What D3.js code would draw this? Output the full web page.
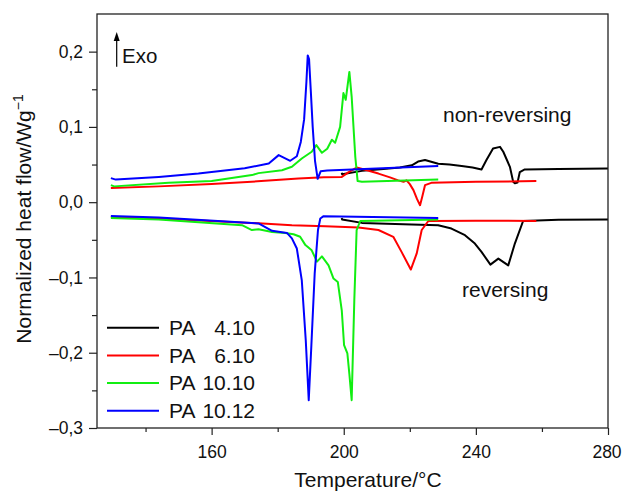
<!DOCTYPE html>
<html>
<head>
<meta charset="utf-8">
<script src="https://cdn.jsdelivr.net/npm/d3@7/dist/d3.min.js"></script>
<style>
  html, body { margin: 0; padding: 0; background: #fff; }
  svg { display: block; font-family: "Liberation Sans", Arial, sans-serif; }
</style>
</head>
<body>
<svg id="chart" width="622" height="494"></svg>
<script>
// ---- Data (temperature °C, normalized heat flow W/g) ----
const seriesNames = ["PA   4.10", "PA   6.10", "PA 10.10", "PA 10.12"];
const seriesPrefix = ["PA", "PA", "PA", "PA"];
const seriesNumber = ["4.10", "6.10", "10.10", "10.12"];
const seriesColors = ["#000000", "#ff0000", "#11ee11", "#0000ff"];

const xTicks = [160, 200, 240, 280];
const xMinorTicks = [140, 180, 220, 260];
const yTicks = [0.2, 0.1, 0.0, -0.1, -0.2, -0.3];
const yTickLabels = ["0,2", "0,1", "0,0", "\u20130,1", "\u20130,2", "\u20130,3"];
const yMinorTicks = [0.15, 0.05, -0.05, -0.15, -0.25];

// non-reversing curves
const pa410NonRev = [[199.4,0.039],[199.5,0.037],[205.5,0.0416],[212,0.044],[217,0.046],[220.6,0.049],[222.5,0.054],[224.6,0.056],[228.6,0.051],[232,0.050],[235.7,0.048],[239,0.046],[241.7,0.0435],[243.2,0.056],[245.2,0.0714],[247.3,0.0735],[248.3,0.067],[250.3,0.047],[251.3,0.027],[251.8,0.025],[252.6,0.026],[253.3,0.040],[254.8,0.0435],[265,0.044],[280,0.0448]];
const pa610NonRev = [[129.5,0.019],[144,0.021],[160,0.024],[175,0.028],[186.3,0.0315],[194,0.033],[199.4,0.0336],[201.5,0.040],[203.9,0.046],[206.5,0.043],[210.5,0.038],[214,0.033],[216.5,0.029],[218.1,0.027],[219,0.029],[220,0.024],[221.1,0.016],[222.2,0.004],[223.1,-0.004],[223.8,0.008],[224.6,0.0226],[226.5,0.0257],[240,0.027],[258.3,0.028]];
const pa1010NonRev = [[129.5,0.0226],[130.5,0.021],[147,0.0257],[160,0.028],[172.2,0.036],[174.2,0.0386],[181.3,0.0425],[184.3,0.047],[187.3,0.058],[190.3,0.067],[191.7,0.0758],[193.4,0.0656],[195.0,0.071],[196.4,0.083],[197.4,0.079],[198.9,0.100],[199.9,0.145],[200.6,0.136],[201.7,0.173],[202.4,0.14],[203.5,0.06],[204.2,0.028],[205.5,0.027],[228.6,0.030]];
const pa1012NonRev = [[129.5,0.032],[131,0.030],[144,0.0336],[156,0.038],[170,0.045],[177.3,0.0514],[180.3,0.0625],[183.8,0.055],[185.8,0.061],[187,0.080],[188,0.11],[188.7,0.16],[189.1,0.195],[189.5,0.19],[190,0.15],[190.6,0.10],[191.3,0.055],[192.1,0.031],[193,0.041],[195,0.042],[228.6,0.048]];

// reversing curves
const pa410Rev = [[199.4,-0.021],[199.5,-0.023],[205.5,-0.0275],[220.6,-0.0297],[228.6,-0.0306],[232.6,-0.035],[236.7,-0.0439],[239.7,-0.055],[241.7,-0.066],[244.4,-0.083],[246.8,-0.075],[249.8,-0.084],[251.8,-0.055],[254.3,-0.025],[265,-0.0235],[280,-0.023]];
const pa610Rev = [[129.5,-0.0195],[144,-0.0217],[174.2,-0.028],[184.3,-0.0306],[194.4,-0.032],[204.5,-0.0337],[210.5,-0.037],[215,-0.046],[217.5,-0.066],[220.3,-0.0895],[222.1,-0.068],[223.6,-0.037],[225.6,-0.025],[240,-0.0247],[258.3,-0.0249]];
const pa1010Rev = [[129.5,-0.0209],[144,-0.023],[169.2,-0.0306],[172.2,-0.037],[174.2,-0.036],[178.3,-0.0395],[182.3,-0.041],[184.8,-0.0426],[186.8,-0.046],[188.4,-0.057],[190.3,-0.064],[191.9,-0.079],[193.4,-0.072],[195.4,-0.084],[196.9,-0.1015],[198.2,-0.106],[199.4,-0.1436],[200.1,-0.19],[201.1,-0.201],[201.7,-0.228],[202.4,-0.263],[203.2,-0.13],[203.9,-0.037],[205.0,-0.025],[228.6,-0.023]];
const pa1012Rev = [[129.5,-0.0182],[144,-0.0204],[174.2,-0.0283],[178.3,-0.038],[182.8,-0.0408],[184.3,-0.048],[185.8,-0.0616],[187.3,-0.104],[188.5,-0.1835],[189.4,-0.263],[190.2,-0.19],[191.2,-0.095],[192.2,-0.037],[192.9,-0.0217],[193.9,-0.0186],[228.6,-0.0209]];

const nonRevSeries = [pa410NonRev, pa610NonRev, pa1010NonRev, pa1012NonRev];
const revSeries = [pa410Rev, pa610Rev, pa1010Rev, pa1012Rev];

// ---- Layout ----
const svg = d3.select("#chart");
const mLeft = 97, mRight = 608, mTop = 14, mBottom = 428;
const x = d3.scaleLinear().domain([125.3, 280]).range([mLeft, mRight]);
const y = d3.scaleLinear().domain([-0.3, 0.25]).range([mBottom, mTop]);

const line = d3.line().x(d => x(d[0])).y(d => y(d[1]));

// curves (draw in order black, red, green, blue)
const plot = svg.append("g");
[0,1,2,3].forEach(i => {
  plot.append("path").datum(revSeries[i]).attr("d", line)
    .attr("fill", "none").attr("stroke", seriesColors[i]).attr("stroke-width", 2)
    .attr("stroke-linejoin", "round");
  plot.append("path").datum(nonRevSeries[i]).attr("d", line)
    .attr("fill", "none").attr("stroke", seriesColors[i]).attr("stroke-width", 2)
    .attr("stroke-linejoin", "round");
});

// frame
svg.append("rect").attr("x", mLeft).attr("y", mTop)
  .attr("width", mRight - mLeft).attr("height", mBottom - mTop)
  .attr("fill", "none").attr("stroke", "#222").attr("stroke-width", 1.3);

// x axis
const xAxis = d3.axisBottom(x).tickValues(xTicks).tickSize(7).tickPadding(11).tickFormat(d3.format("d"));
const gx = svg.append("g").attr("transform", `translate(0,${mBottom})`).call(xAxis);
const xMinor = d3.axisBottom(x).tickValues(xMinorTicks).tickSize(4).tickFormat("");
const gxm = svg.append("g").attr("transform", `translate(0,${mBottom})`).call(xMinor);

// y axis
const yAxis = d3.axisLeft(y).tickValues(yTicks).tickSize(8).tickPadding(6)
  .tickFormat((d, i) => yTickLabels[i]);
const gy = svg.append("g").attr("transform", `translate(${mLeft},0)`).call(yAxis);
const yMinor = d3.axisLeft(y).tickValues(yMinorTicks).tickSize(5).tickFormat("");
const gym = svg.append("g").attr("transform", `translate(${mLeft},0)`).call(yMinor);

[gx, gxm, gy, gym].forEach(g => {
  g.select(".domain").remove();
  g.selectAll(".tick line").attr("stroke", "#222").attr("stroke-width", 1.2);
  g.selectAll(".tick text").attr("font-size", 17.5).attr("fill", "#111")
    .attr("font-family", "'Liberation Sans', Arial, sans-serif");
});
// keep the last x label inside the picture
gx.selectAll(".tick text").filter(d => d === 280).attr("dx", -1.5);

// axis titles
svg.append("text").attr("x", 368).attr("y", 487).attr("text-anchor", "middle")
  .attr("font-size", 21).attr("fill", "#111").text("Temperature/°C");

const yt = svg.append("text")
  .attr("transform", "translate(31,219) rotate(-90)")
  .attr("text-anchor", "middle").attr("font-size", 21).attr("fill", "#111");
yt.append("tspan").text("Normalized heat flow/Wg");
yt.append("tspan").attr("dy", -8).attr("font-size", 14).text("\u22121");

// Exo arrow
svg.append("line").attr("x1", 116.7).attr("x2", 116.7).attr("y1", 66.7).attr("y2", 40)
  .attr("stroke", "#000").attr("stroke-width", 1.2);
svg.append("path").attr("d", "M116.7,32 L113.7,41 L119.7,41 Z").attr("fill", "#000");
svg.append("text").attr("x", 122).attr("y", 63).attr("font-size", 20.5).attr("fill", "#111").text("Exo");

// annotations
svg.append("text").attr("x", 443).attr("y", 121.5).attr("font-size", 21).attr("fill", "#111").text("non-reversing");
svg.append("text").attr("x", 462).attr("y", 296.5).attr("font-size", 21).attr("fill", "#111").text("reversing");

// legend
const legendY = [327.7, 355.4, 383, 410.7];
const lg = svg.append("g");
seriesNames.forEach((name, i) => {
  lg.append("line").attr("x1", 107).attr("x2", 159).attr("y1", legendY[i]).attr("y2", legendY[i])
    .attr("stroke", seriesColors[i]).attr("stroke-width", 2);
  lg.append("text").attr("x", 169).attr("y", legendY[i] + 7.3).attr("font-size", 21).attr("fill", "#111")
    .text(seriesPrefix[i]);
  lg.append("text").attr("x", 255).attr("y", legendY[i] + 7.3).attr("font-size", 21).attr("fill", "#111")
    .attr("text-anchor", "end").text(seriesNumber[i]);
});
</script>
</body>
</html>
